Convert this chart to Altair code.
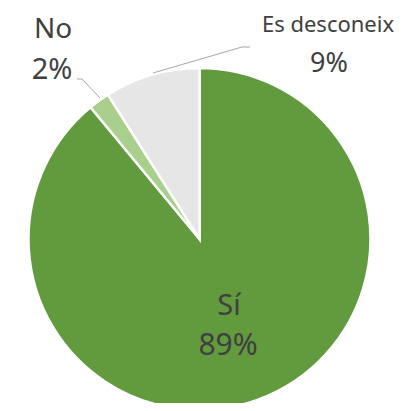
import altair as alt
import pandas as pd

categories = ["Sí", "No", "Es desconeix"]
values = [89, 2, 9]
colors = ["#629b3e", "#a8cf8c", "#e6e6e6"]

pie_df = pd.DataFrame({"cat": categories, "val": values, "ord": list(range(len(categories)))})

# label placement (style, in pixels of the chart area)
CX, CY, R = 191.5, 231, 171
label_style = {
    "Sí": {"name": (221, 307, 29), "pct": (220, 347, 30)},
    "No": {"name": (45, 30, 28), "pct": (44, 71, 29)},
    "Es desconeix": {"name": (320, 24, 22), "pct": (321, 64, 27)},
}
rows = []
for c, v in zip(categories, values):
    st = label_style[c]
    rows.append({"t": c, "x": st["name"][0], "y": st["name"][1], "s": st["name"][2]})
    rows.append({"t": f"{v}%", "x": st["pct"][0], "y": st["pct"][1], "s": st["pct"][2]})
lab_df = pd.DataFrame(rows)

leaders = pd.DataFrame([
    {"x": 69, "y": 71, "x2": 74, "y2": 71},
    {"x": 74, "y": 71, "x2": 92, "y2": 90},
    {"x": 242, "y": 39, "x2": 234, "y2": 39},
    {"x": 234, "y": 39, "x2": 145, "y2": 65},
])

pie = alt.Chart(pie_df).mark_arc(stroke="white", strokeWidth=2.5).encode(
    theta=alt.Theta("val:Q", stack=True),
    color=alt.Color("cat:N", scale=alt.Scale(domain=categories, range=colors), legend=None),
    order=alt.Order("ord:Q"),
    x=alt.value(CX),
    y=alt.value(CY),
    radius=alt.value(R),
)

lines = alt.Chart(leaders).mark_rule(color="#a6a6a6", strokeWidth=1).encode(
    x=alt.X("x:Q", scale=None), y=alt.Y("y:Q", scale=None),
    x2="x2:Q", y2="y2:Q",
)

texts = alt.Chart(lab_df).mark_text(
    font="Noto Sans", color="#404040", align="center", baseline="alphabetic"
).encode(
    x=alt.X("x:Q", scale=None), y=alt.Y("y:Q", scale=None),
    size=alt.Size("s:Q", scale=None, legend=None),
    text="t:N",
)

chart = alt.layer(pie, lines, texts).properties(
    width=387, height=395, autosize=alt.AutoSizeParams(type="none"), padding=0
).configure_view(stroke=None)

chart.save("out.html", embed_options={"renderer": "svg", "actions": False})
